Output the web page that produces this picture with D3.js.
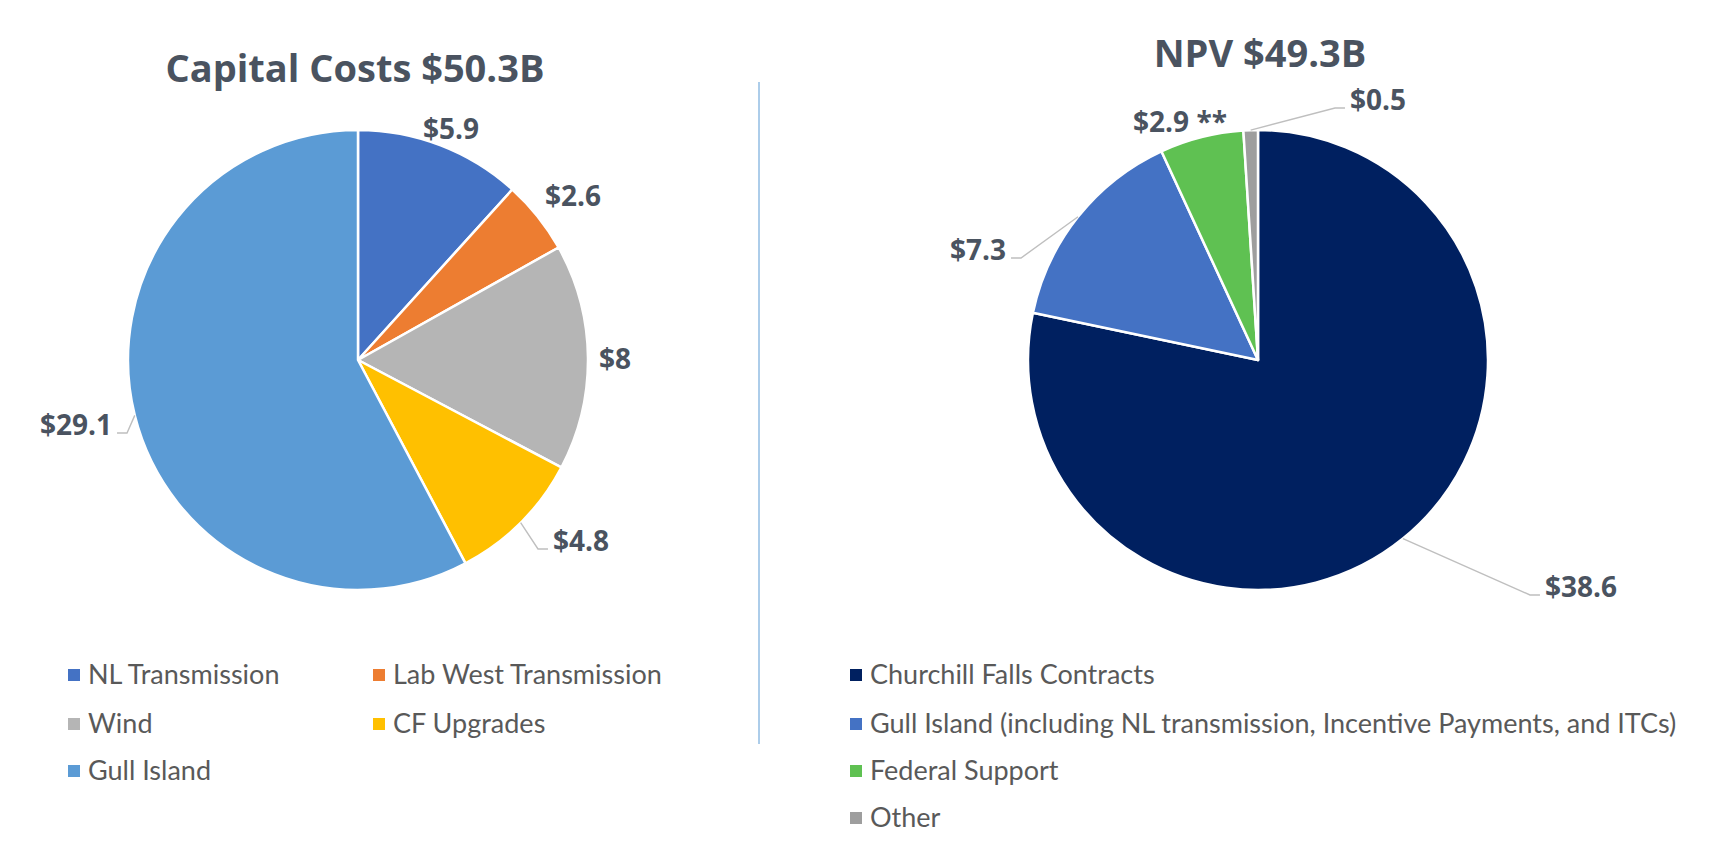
<!DOCTYPE html>
<html>
<head>
<meta charset="utf-8">
<script src="https://cdn.jsdelivr.net/npm/d3@7"></script>
<style>
  html, body { margin: 0; padding: 0; background: #ffffff; }
  svg { display: block; }
</style>
</head>
<body>
<script>
// ---------------- DATA ----------------
const capTitle = "Capital Costs $50.3B";
const capCategories = ["NL Transmission", "Lab West Transmission", "Wind", "CF Upgrades", "Gull Island"];
const capValues = [5.9, 2.6, 8, 4.8, 29.1];
const capLabels = ["$5.9", "$2.6", "$8", "$4.8", "$29.1"];

const npvTitle = "NPV $49.3B";
const npvCategories = ["Churchill Falls Contracts",
  "Gull Island (including NL transmission, Incentive Payments, and ITCs)",
  "Federal Support", "Other"];
const npvValues = [38.6, 7.3, 2.9, 0.5];
const npvLabels = ["$38.6", "$7.3", "$2.9 **", "$0.5"];

// ---------------- STYLE / LAYOUT ----------------
const W = 1720, H = 857;
const capColors = ["#4472C4", "#ED7D31", "#B5B5B5", "#FFC000", "#5B9BD5"];
const npvColors = ["#002060", "#4472C4", "#5FC152", "#9E9E9E"];
const textDark = "#4A5360";
const legendGrey = "#595959";

const left = {
  cx: 358, cy: 360, r: 230, titleX: 355, titleY: 82,
  // label centre offsets from pie centre, and whether a leader line is drawn
  labelOffsets: [[93, -231], [215, -164], [257, -1], [223, 181], [-282, 65]],
  leaders: [false, false, false, true, true],
  legendCols: [68, 373], legendRows: [675, 724, 771], legendColsCount: 2
};
const right = {
  cx: 1258, cy: 360, r: 230, titleX: 1260, titleY: 67,
  labelOffsets: [[323, 227], [-280, -110], [-78, -238], [120, -260]],
  leaders: [true, true, false, true],
  legendCols: [850], legendRows: [675, 724, 771, 818], legendColsCount: 1
};

const svg = d3.select("body").append("svg").attr("width", W).attr("height", H);
svg.append("rect").attr("width", W).attr("height", H).attr("fill", "#ffffff");

// divider
svg.append("line")
  .attr("x1", 759).attr("x2", 759).attr("y1", 82).attr("y2", 744)
  .attr("stroke", "#5B9BD5").attr("stroke-width", 1);

function drawPie(cfg, title, cats, vals, labels, colors) {
  const g = svg.append("g");
  g.append("text")
    .attr("x", cfg.titleX).attr("y", cfg.titleY)
    .attr("text-anchor", "middle")
    .attr("font-family", "'Open Sans', sans-serif")
    .attr("font-weight", 700).attr("font-size", 38)
    .attr("fill", textDark)
    .text(title);

  const pie = d3.pie().sort(null).value(d => d)(vals);
  const arc = d3.arc().innerRadius(0).outerRadius(cfg.r);
  const pg = g.append("g").attr("transform", `translate(${cfg.cx},${cfg.cy})`);
  pg.selectAll("path").data(pie).join("path")
    .attr("d", arc)
    .attr("fill", (d, i) => colors[i])
    .attr("stroke", "#ffffff").attr("stroke-width", 2.5)
    .attr("stroke-linejoin", "round");

  const fs = 28;
  pie.forEach((d, i) => {
    const [ox, oy] = cfg.labelOffsets[i];
    const lx = cfg.cx + ox, ly = cfg.cy + oy;
    const t = g.append("text")
      .attr("x", lx).attr("y", ly + fs * 0.357)
      .attr("text-anchor", "middle")
      .attr("font-family", "'Open Sans', sans-serif")
      .attr("font-weight", 700).attr("font-size", fs)
      .attr("fill", textDark)
      .text(labels[i]);
    if (cfg.leaders[i]) {
      const w = t.node().getComputedTextLength();
      const mid = (d.startAngle + d.endAngle) / 2;
      const ex = cfg.cx + cfg.r * Math.sin(mid);
      const ey = cfg.cy - cfg.r * Math.cos(mid);
      const onRight = lx > ex;
      const sx = onRight ? lx - w / 2 - 5 : lx + w / 2 + 5;
      const sy = ly + 8;
      const kx = onRight ? sx - 10 : sx + 10;
      g.append("path")
        .attr("d", d3.line()([[ex, ey], [kx, sy], [sx, sy]]))
        .attr("fill", "none")
        .attr("stroke", "#BFBFBF").attr("stroke-width", 1.4);
    }
  });

  // legend
  cats.forEach((c, i) => {
    const col = i % cfg.legendColsCount;
    const row = Math.floor(i / cfg.legendColsCount);
    const x = cfg.legendCols[col], y = cfg.legendRows[row];
    g.append("rect")
      .attr("x", x).attr("y", y - 6).attr("width", 12).attr("height", 12)
      .attr("fill", colors[i]);
    g.append("text")
      .attr("x", x + 20).attr("y", y + 9)
      .attr("font-family", "Lato, 'Open Sans', sans-serif")
      .attr("font-size", 27)
      .attr("fill", legendGrey)
      .text(c);
  });
}

drawPie(left, capTitle, capCategories, capValues, capLabels, capColors);
drawPie(right, npvTitle, npvCategories, npvValues, npvLabels, npvColors);
</script>
</body>
</html>
